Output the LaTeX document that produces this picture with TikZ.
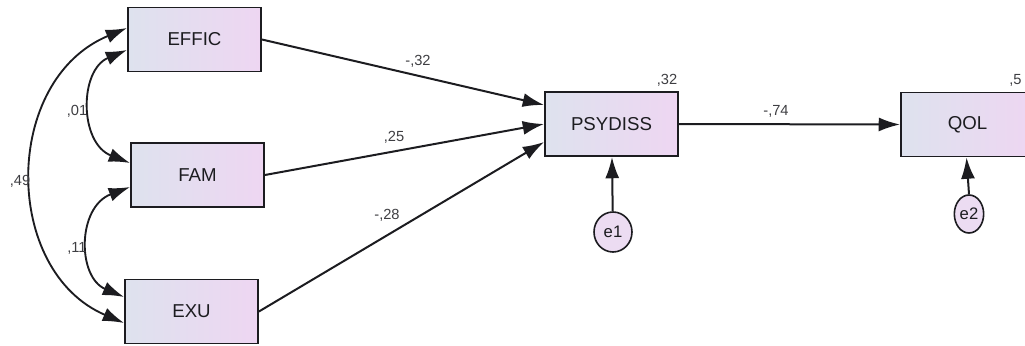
\documentclass[tikz,border=0pt]{standalone}
\usepackage{fontspec}
\setmainfont{Liberation Sans}
\usetikzlibrary{arrows.meta,shapes.geometric,calc}
\definecolor{boxleft}{RGB}{222,226,238}
\definecolor{boxright}{RGB}{238,214,242}
\definecolor{errfill}{RGB}{236,220,242}
\definecolor{ink}{RGB}{28,28,32}
\tikzset{
  var/.style={draw=ink, line width=1.4pt, rectangle, minimum width=99.75pt,
    minimum height=48pt, left color=boxleft, right color=boxright,
    font=\fontsize{14}{16}\selectfont, text=ink, inner sep=0pt},
  err/.style={draw=ink, line width=1.2pt, ellipse, fill=errfill,
    font=\fontsize{12.5}{14}\selectfont, text=ink, inner sep=0pt},
  regpath/.style={line width=1.5pt, draw=ink,
    arrows={-Latex[length=16pt,width=10.5pt]}},
  covpath/.style={line width=1.4pt, draw=ink,
    arrows={Latex[length=16pt,width=10.5pt]-Latex[length=16pt,width=10.5pt]}},
  lbl/.style={font=\fontsize{11}{13}\selectfont, text=ink!85, inner sep=0pt}
}
\begin{document}
\begin{tikzpicture}[x=0.75pt,y=-0.75pt]
\useasboundingbox (0,0) rectangle (1025,346);
\clip (0,0) rectangle (1025,346);

% observed variables
\node[var] (EFFIC) at (194.5,39.5) {EFFIC};
\node[var] (FAM) at (197.5,175) {FAM};
\node[var] (EXU) at (191.5,311.5) {EXU};
\node[var] (PSY) at (611.5,124) {PSYDISS};
\node[var] (QOL) at (967.5,124.5) {QOL};

% error terms
\node[err, minimum width=28.5pt, minimum height=30pt] (e1) at (613,232) {e1};
\node[err, minimum width=22pt, minimum height=28.5pt] (e2) at (969,214) {e2};

% anchor points on the boxes
\coordinate (psyA) at ($(PSY.west)+(0,-19)$);
\coordinate (psyB) at ($(PSY.west)+(0,0)$);
\coordinate (psyC) at ($(PSY.west)+(0,18)$);
\coordinate (effA) at ($(EFFIC.west)+(0,-11.5)$);
\coordinate (effB) at ($(EFFIC.west)+(0,10.5)$);
\coordinate (famA) at ($(FAM.west)+(0,-12)$);
\coordinate (famB) at ($(FAM.west)+(0,12)$);
\coordinate (exuA) at ($(EXU.west)+(0,-14.5)$);
\coordinate (exuB) at ($(EXU.west)+(0,11.5)$);

% regression paths
\draw[regpath] (EFFIC.east) -- (psyA);
\draw[regpath] (FAM.east) -- (psyB);
\draw[regpath] (EXU.east) -- (psyC);
\draw[regpath] (PSY.east) -- (QOL.west);
\draw[regpath] (e1) -- (PSY);
\draw[regpath] (e2.north) -- ($(QOL.south)+(-1,0)$);

% covariances
\draw[covpath] (effA) .. controls (2,80) and (2,271) .. (exuB);
\draw[covpath] (effB) .. controls (79,70) and (79,143) .. (famA);
\draw[covpath] (famB) .. controls (77,207) and (77,277) .. (exuA);

% estimates
\node[lbl] (l49) at (20,181) {,49};
\node[lbl] (l01) at (77,111) {,01};
\node[lbl] (l11) at (77,248) {,11};
\node[lbl] (l32a) at (418,61) {-,32};
\node[lbl] (l25) at (394,137) {,25};
\node[lbl] (l28) at (387,215) {-,28};
\node[lbl] (l74) at (776,111) {-,74};
\node[lbl] (r32) at (667,80) {,32};
\node[lbl, anchor=west] (r5) at (1009,80) {,5};
\end{tikzpicture}
\end{document}
